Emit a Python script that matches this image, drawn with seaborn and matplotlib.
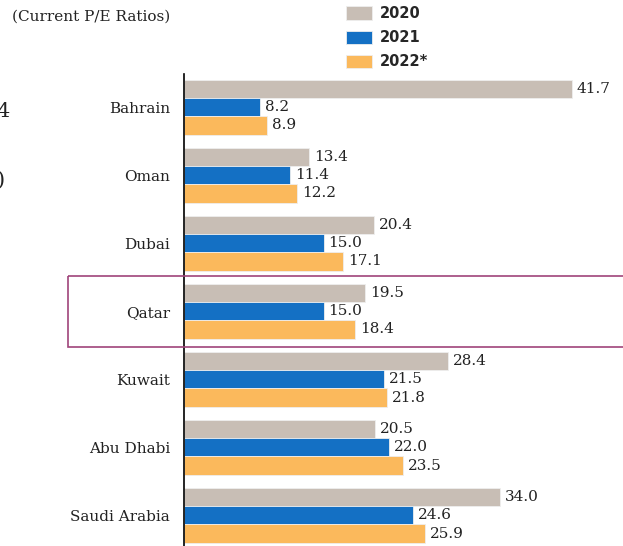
import pandas as pd
import numpy as np
import matplotlib.pyplot as plt
import matplotlib.transforms as mtransforms
from matplotlib.patches import Rectangle
import seaborn as sns

# data
countries = ["Bahrain", "Oman", "Dubai", "Qatar", "Kuwait", "Abu Dhabi", "Saudi Arabia"]
years = ["2020", "2021", "2022*"]
pe_2020 = [41.7, 13.4, 20.4, 19.5, 28.4, 20.5, 34.0]
pe_2021 = [8.2, 11.4, 15.0, 15.0, 21.5, 22.0, 24.6]
pe_2022 = [8.9, 12.2, 17.1, 18.4, 21.8, 23.5, 25.9]
colors = ["#C8BEB5", "#1470C4", "#FBB95C"]

df = pd.DataFrame({"Country": countries, "2020": pe_2020, "2021": pe_2021, "2022*": pe_2022})
df = df.melt(id_vars="Country", var_name="Year", value_name="PE")

sns.set_style("white")
plt.rcParams["font.family"] = ["DejaVu Serif"]

fig = plt.figure(figsize=(6.23, 5.46), dpi=100)
ax = fig.add_axes([184 / 623, 0, 439 / 623, 472 / 546])

sns.barplot(data=df, y="Country", x="PE", hue="Year", hue_order=years,
            palette=colors, saturation=1, orient="h", width=0.8, ax=ax,
            edgecolor="#EEEEEE", linewidth=0.6, errorbar=None)

ax.set_xlim(0, 47.2)
ax.set_ylim(6.45, -0.49)
for s in ["top", "right", "bottom"]:
    ax.spines[s].set_visible(False)
ax.spines["left"].set_color("black")
ax.spines["left"].set_linewidth(1.2)
ax.set_xticks([])
ax.set_xlabel("")
ax.set_ylabel("")
ax.tick_params(axis="y", length=0, pad=10, labelsize=11, labelcolor="#222222")

# value labels
for cont in ax.containers:
    ax.bar_label(cont, fmt="%.1f", padding=3.6, fontsize=11, color="#222222")

# legend
leg = ax.legend(loc="upper left", bbox_to_anchor=(346 / 623, 1 - 6 / 546),
                bbox_transform=fig.transFigure, frameon=False,
                handlelength=1.8, handleheight=1.0, labelspacing=0.62,
                handletextpad=0.55, borderaxespad=0, borderpad=0,
                prop={"family": "DejaVu Sans", "weight": "bold", "size": 10.5})

fig.text(12 / 623, 1 - 17 / 546, "(Current P/E Ratios)", fontsize=11,
         va="center", ha="left", color="#222222")

# highlight box around Qatar
trans = mtransforms.blended_transform_factory(fig.transFigure, ax.transData)
box = Rectangle((68 / 623, 2.48), 1.0, 1.04, transform=trans, fill=False,
                edgecolor="#A0447A", linewidth=1.2, clip_on=False)
fig.patches.append(box)

# cut-off glyphs of neighbouring chart
fig.text(-4 / 623, 1 - 112 / 546, "4", fontsize=15, va="center", ha="left", color="#222222")
fig.text(-3 / 623, 1 - 180 / 546, ")", fontsize=15, va="center", ha="left", color="#222222")

fig.savefig("out.png", dpi=100)
